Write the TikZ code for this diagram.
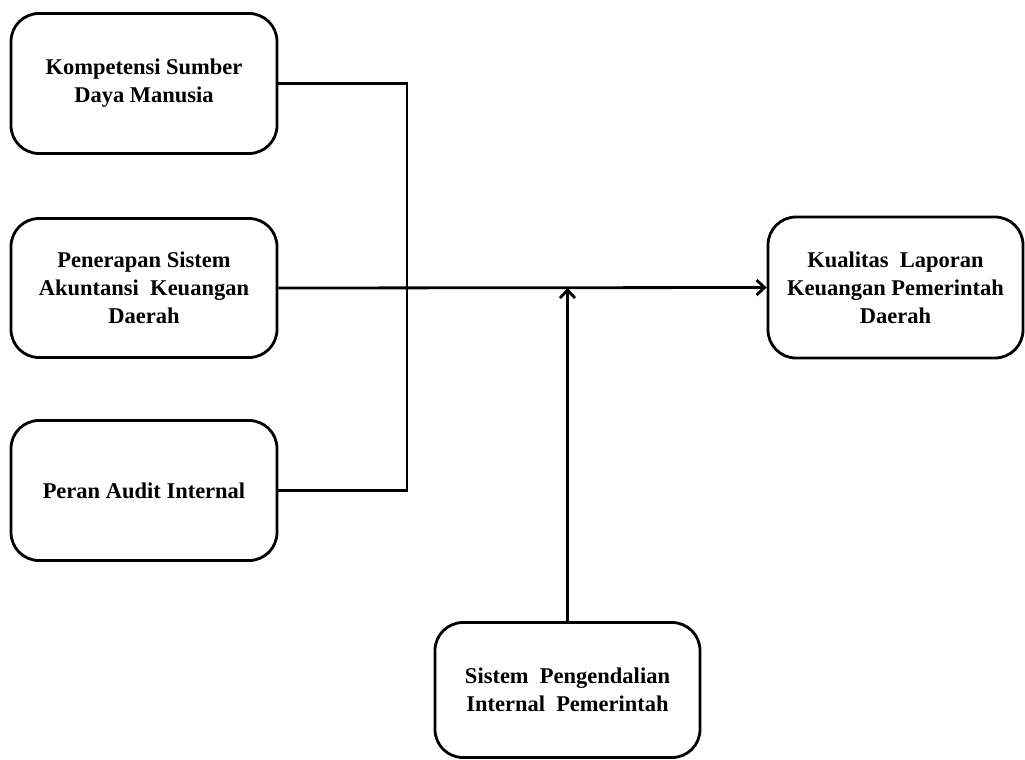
\documentclass[tikz,border=0pt]{standalone}
\usepackage{fontspec}
\setmainfont{Liberation Serif}
\usetikzlibrary{arrows.meta,positioning,calc}

\begin{document}
\begin{tikzpicture}[x=1pt,y=-1pt,
    varbox/.style={draw,line width=2.8pt,rounded corners=28pt,align=center,
        minimum width=266pt,minimum height=140pt,inner sep=4pt,
        font=\fontsize{22.5}{28}\selectfont\bfseries},
    link/.style={line width=2.8pt},
    arr/.style={link,-{Straight Barb[length=8pt,width=15pt,line width=2.8pt]}}]
    \useasboundingbox (0,0) rectangle (1025,760);
    \node[varbox] (ksdm) at (144,83.5) {Kompetensi Sumber\\Daya Manusia};
    \node[varbox,minimum height=139pt] (sakd) at (144,288) {Penerapan Sistem\\Akuntansi\ \ Keuangan\\Daerah};
    \node[varbox] (audit) at (144,490.5) {Peran Audit Internal};
    \node[varbox,minimum width=255pt,minimum height=141pt] (klkpd) at (895.5,287.5) {Kualitas\ \ Laporan\\Keuangan Pemerintah\\Daerah};
    \node[varbox,minimum width=265pt,minimum height=135pt] (spip) at (567.5,690) {Sistem\ \ Pengendalian\\Internal\ \ Pemerintah};
    \coordinate (join) at (407,288);
    \draw[link] (ksdm.east) -| (join) |- (audit.east);
    \draw[arr] (sakd.east) -- (klkpd.west);
    \draw[arr] (spip.north) -- (spip.north |- sakd.east);
\end{tikzpicture}
\end{document}
